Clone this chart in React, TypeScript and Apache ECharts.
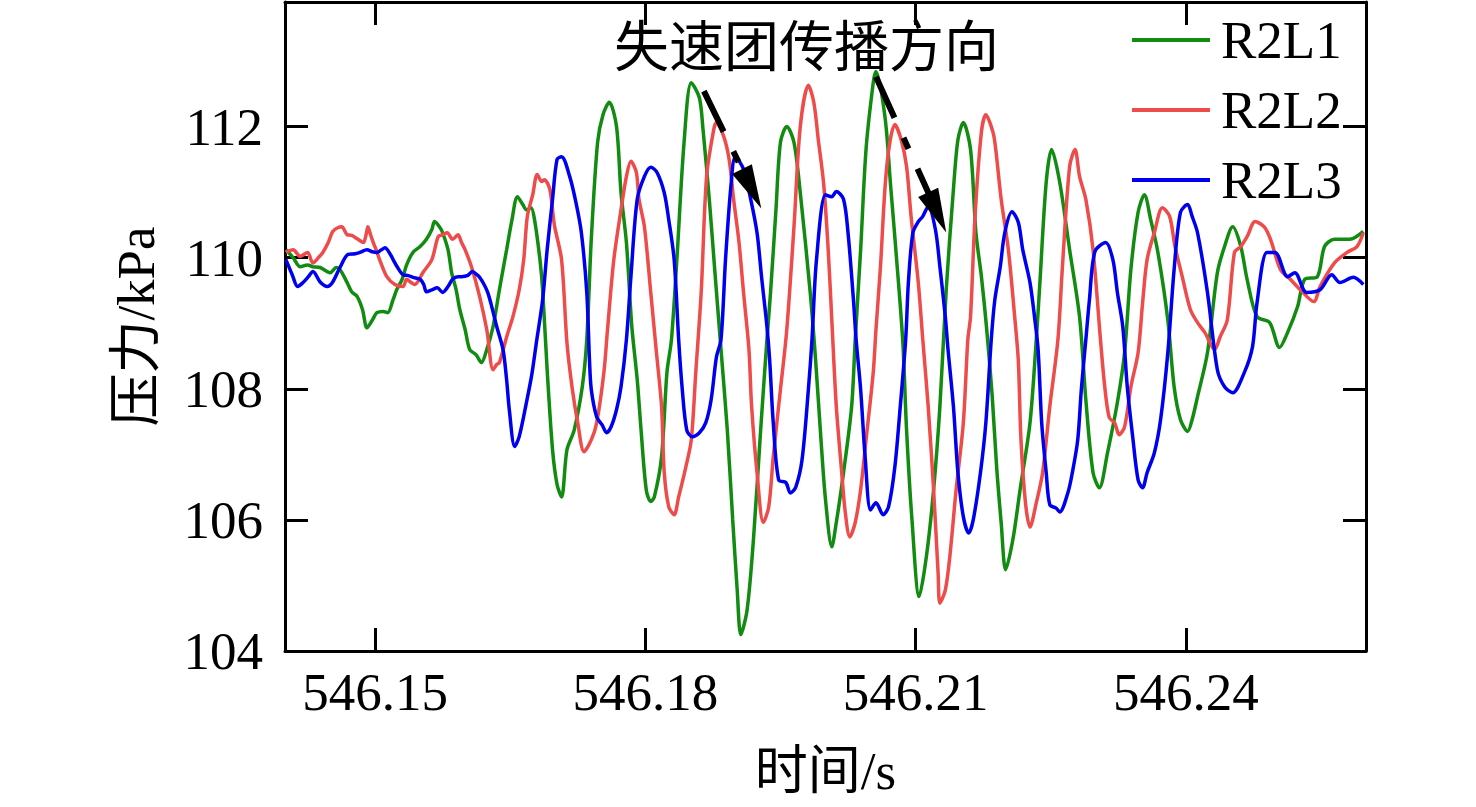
import React, { useEffect, useRef } from "react";
import * as echarts from "echarts";

const seriesNames = ["R2L1", "R2L2", "R2L3"];
const seriesColors = ["#118c11", "#ee4b4b", "#0000f0"];
const xTicks = [546.15, 546.18, 546.21, 546.24];
const yTicks = [104, 106, 108, 110, 112];
const xRange = [546.14, 546.26];
const yRange = [104, 113.9];
const xTitle = "时间/s";
const yTitle = "压力/kPa";
const annotationText = "失速团传播方向";

// [time (s), pressure (kPa)]
const R2L1: [number, number][] = [
  [546.1401, 110.12], [546.1409, 110.0], [546.1417, 109.86], [546.1425, 109.89], [546.1431, 109.86],
  [546.1439, 109.85], [546.145, 109.77], [546.1457, 109.85], [546.1461, 109.82], [546.1469, 109.62],
  [546.1474, 109.48], [546.148, 109.41], [546.1486, 109.21], [546.1491, 108.93], [546.1497, 109.05],
  [546.1502, 109.16], [546.1509, 109.18], [546.1514, 109.16], [546.152, 109.36], [546.1524, 109.51],
  [546.153, 109.67], [546.1535, 109.89], [546.1542, 110.08], [546.155, 110.17], [546.1557, 110.28],
  [546.1563, 110.43], [546.1566, 110.55], [546.1572, 110.46], [546.1575, 110.38], [546.1581, 110.12],
  [546.1585, 109.77], [546.159, 109.51], [546.1594, 109.21], [546.16, 108.9], [546.1605, 108.6],
  [546.1612, 108.52], [546.1618, 108.4], [546.1624, 108.6], [546.1631, 108.95], [546.1638, 109.51],
  [546.1646, 110.12], [546.1652, 110.58], [546.1658, 110.93], [546.1664, 110.81], [546.1668, 110.73],
  [546.1673, 110.76], [546.1677, 110.58], [546.1683, 109.97], [546.1686, 109.51], [546.1691, 108.29],
  [546.1697, 107.07], [546.1702, 106.54], [546.1707, 106.35], [546.1713, 107.07], [546.1721, 107.37],
  [546.173, 108.03], [546.1735, 108.75], [546.174, 110.28], [546.1747, 111.76], [546.1753, 112.18],
  [546.176, 112.37], [546.1768, 112.0], [546.1773, 110.99], [546.1779, 110.23], [546.1785, 108.95],
  [546.1791, 108.14], [546.1795, 107.42], [546.1801, 106.46], [546.1806, 106.28], [546.181, 106.35],
  [546.1818, 106.96], [546.1824, 108.25], [546.1829, 108.75], [546.1835, 109.97], [546.1843, 111.76],
  [546.1851, 112.67], [546.186, 112.44], [546.1864, 111.96], [546.1871, 110.89], [546.1877, 109.82],
  [546.1884, 108.6], [546.1891, 107.37], [546.1897, 106.0], [546.1902, 104.93], [546.1906, 104.25],
  [546.1913, 104.63], [546.192, 105.7], [546.1928, 107.37], [546.1935, 108.75], [546.1939, 109.47],
  [546.1945, 110.73], [546.195, 111.76], [546.1957, 112.0], [546.1965, 111.76], [546.1972, 110.99],
  [546.1983, 109.47], [546.1989, 108.44], [546.1995, 107.22], [546.2, 106.31], [546.2007, 105.59],
  [546.2012, 105.96], [546.202, 106.72], [546.2029, 107.73], [546.2033, 108.75], [546.2039, 110.12],
  [546.2045, 111.65], [546.2053, 112.67], [546.2056, 112.84], [546.2066, 112.15], [546.2072, 111.15],
  [546.2081, 109.62], [546.2086, 108.67], [546.209, 107.37], [546.2096, 106.0], [546.2104, 104.83],
  [546.2112, 105.44], [546.212, 106.46], [546.2127, 107.73], [546.2134, 109.51], [546.2142, 111.04],
  [546.2147, 111.8], [546.2153, 112.06], [546.2161, 111.65], [546.2167, 110.38], [546.2173, 109.72],
  [546.2179, 108.9], [546.2185, 107.9], [546.219, 106.8], [546.2195, 105.96], [546.22, 105.24],
  [546.2208, 105.7], [546.2216, 106.46], [546.2227, 107.48], [546.2234, 108.75], [546.2238, 109.62],
  [546.2245, 111.15], [546.2251, 111.65], [546.226, 111.15], [546.2271, 110.12], [546.2282, 109.1],
  [546.2289, 107.83], [546.2297, 106.72], [546.2304, 106.49], [546.2313, 107.02], [546.2324, 107.79],
  [546.2332, 108.55], [546.2339, 109.82], [546.2347, 110.69], [546.2354, 110.96], [546.2361, 110.58],
  [546.2369, 110.08], [546.238, 109.05], [546.2387, 108.03], [546.2394, 107.53], [546.2402, 107.35],
  [546.2407, 107.53], [546.2413, 107.88], [546.2424, 108.55], [546.2435, 109.77], [546.2443, 110.17],
  [546.2452, 110.47], [546.2461, 110.17], [546.2468, 109.67], [546.2479, 109.1], [546.2493, 109.01],
  [546.2504, 108.63], [546.2513, 108.86], [546.2524, 109.25], [546.2532, 109.67], [546.2546, 109.71],
  [546.2554, 110.17], [546.2565, 110.28], [546.2582, 110.28], [546.2597, 110.4],
];

const R2L2: [number, number][] = [
  [546.1401, 110.08], [546.1409, 110.12], [546.1417, 110.02], [546.1425, 110.08], [546.1431, 109.92],
  [546.1437, 110.0], [546.1442, 110.08], [546.1448, 110.23], [546.1453, 110.4], [546.1459, 110.46],
  [546.1463, 110.47], [546.1469, 110.35], [546.1474, 110.34], [546.1481, 110.28], [546.1487, 110.23],
  [546.149, 110.35], [546.1492, 110.47], [546.1495, 110.35], [546.1498, 110.23], [546.1502, 110.09],
  [546.1505, 109.97], [546.1513, 109.71], [546.1522, 109.59], [546.1531, 109.56], [546.1535, 109.67],
  [546.154, 109.62], [546.1544, 109.59], [546.1549, 109.67], [546.1553, 109.77], [546.1563, 109.97],
  [546.157, 110.32], [546.1575, 110.35], [546.158, 110.38], [546.1586, 110.28], [546.1592, 110.35],
  [546.1596, 110.23], [546.16, 110.12], [546.1607, 109.86], [546.1616, 109.41], [546.1624, 108.9],
  [546.1631, 108.29], [546.1635, 108.37], [546.1638, 108.4], [546.1646, 108.79], [546.1653, 109.1],
  [546.166, 109.51], [546.1665, 109.97], [546.1669, 110.63], [546.1675, 110.96], [546.168, 111.27],
  [546.1685, 111.16], [546.1688, 111.19], [546.1694, 111.04], [546.1699, 110.5], [546.1707, 109.97],
  [546.1713, 108.7], [546.1719, 107.99], [546.1725, 107.48], [546.1732, 107.04], [546.174, 107.22],
  [546.1746, 107.48], [546.1754, 108.25], [546.1758, 108.9], [546.1765, 109.97], [546.1773, 110.73],
  [546.1779, 111.24], [546.1784, 111.47], [546.179, 111.3], [546.1793, 110.89], [546.1799, 110.47],
  [546.1806, 109.47], [546.1812, 108.6], [546.1818, 107.73], [546.1821, 106.72], [546.1826, 106.2],
  [546.1832, 106.08], [546.1837, 106.35], [546.1845, 106.81], [546.1851, 107.22], [546.1856, 108.25],
  [546.1862, 109.47], [546.1868, 111.24], [546.1876, 111.96], [546.1879, 112.06], [546.1887, 111.85],
  [546.1893, 111.5], [546.1898, 110.89], [546.1904, 110.23], [546.1909, 109.47], [546.1915, 108.6],
  [546.1918, 107.73], [546.1924, 106.72], [546.1931, 105.96], [546.1937, 106.2], [546.1942, 106.96],
  [546.195, 107.99], [546.1957, 108.9], [546.1965, 110.47], [546.1972, 112.0], [546.1981, 112.63],
  [546.1987, 112.37], [546.1992, 111.8], [546.1998, 111.12], [546.2003, 110.12], [546.2007, 109.05],
  [546.2012, 107.73], [546.2018, 106.72], [546.2022, 106.11], [546.2027, 105.74], [546.2033, 105.96],
  [546.2039, 106.46], [546.2045, 107.22], [546.2053, 108.25], [546.2056, 108.9], [546.2061, 109.86],
  [546.2068, 111.39], [546.2077, 112.03], [546.2084, 111.8], [546.209, 111.39], [546.2095, 110.63],
  [546.2103, 109.62], [546.2108, 108.75], [546.2114, 107.73], [546.212, 106.46], [546.2125, 105.19],
  [546.2127, 104.73], [546.2133, 104.93], [546.2138, 105.44], [546.2145, 106.46], [546.2153, 107.48],
  [546.2158, 108.75], [546.2161, 109.1], [546.2166, 110.63], [546.2173, 111.91], [546.2178, 112.18],
  [546.2186, 111.91], [546.2189, 111.65], [546.2195, 110.89], [546.2203, 110.12], [546.221, 109.1],
  [546.2214, 108.44], [546.2217, 107.22], [546.2222, 106.26], [546.2227, 105.89], [546.2234, 106.26],
  [546.2241, 106.72], [546.2249, 107.73], [546.2258, 108.75], [546.2263, 109.86], [546.2271, 111.39],
  [546.2277, 111.65], [546.2282, 111.24], [546.2289, 110.89], [546.2297, 110.12], [546.2305, 108.79],
  [546.231, 108.03], [546.2315, 107.56], [546.2321, 107.48], [546.2326, 107.3], [546.2332, 107.42],
  [546.2339, 108.03], [546.2347, 108.55], [546.2352, 109.31], [546.2357, 109.97], [546.2365, 110.38],
  [546.2374, 110.76], [546.2382, 110.63], [546.2388, 110.17], [546.2396, 109.71], [546.2405, 109.21],
  [546.2413, 109.01], [546.2421, 108.86], [546.2432, 108.6], [546.2438, 108.79], [546.2446, 109.05],
  [546.2454, 110.08], [546.2461, 110.17], [546.2468, 110.32], [546.2477, 110.55], [546.2487, 110.47],
  [546.2494, 110.28], [546.2505, 109.82], [546.2516, 109.67], [546.2527, 109.51], [546.2542, 109.33],
  [546.2549, 109.56], [546.2565, 109.92], [546.2579, 110.08], [546.259, 110.17], [546.2597, 110.38],
];

const R2L3: [number, number][] = [
  [546.1401, 109.97], [546.1408, 109.74], [546.1414, 109.56], [546.142, 109.62], [546.1426, 109.71],
  [546.1431, 109.79], [546.1439, 109.63], [546.1447, 109.56], [546.1453, 109.63], [546.1461, 109.85],
  [546.147, 110.05], [546.1478, 110.06], [546.1483, 110.08], [546.1491, 110.12], [546.1497, 110.09],
  [546.1502, 110.08], [546.1507, 110.12], [546.1511, 110.15], [546.1517, 110.05], [546.152, 109.97],
  [546.1525, 109.85], [546.1531, 109.74], [546.1536, 109.73], [546.1542, 109.7], [546.155, 109.67],
  [546.1554, 109.59], [546.1557, 109.48], [546.1563, 109.51], [546.1569, 109.54], [546.1575, 109.47],
  [546.1581, 109.56], [546.1586, 109.67], [546.1592, 109.71], [546.1596, 109.71], [546.1603, 109.73],
  [546.1608, 109.79], [546.1613, 109.74], [546.1616, 109.7], [546.1621, 109.59], [546.1625, 109.47],
  [546.1629, 109.28], [546.1635, 108.95], [546.1642, 108.6], [546.1646, 108.14], [546.1649, 107.68],
  [546.1655, 107.12], [546.166, 107.27], [546.1668, 107.79], [546.1674, 108.22], [546.1679, 108.7],
  [546.1686, 109.36], [546.1691, 110.12], [546.1697, 110.89], [546.1702, 111.5], [546.1707, 111.54],
  [546.1716, 111.24], [546.1723, 110.84], [546.1729, 110.38], [546.1735, 109.47], [546.1738, 108.44],
  [546.174, 107.99], [546.1746, 107.57], [546.1752, 107.45], [546.1757, 107.33], [546.1762, 107.42],
  [546.1768, 107.68], [546.1773, 108.03], [546.1779, 108.75], [546.1784, 109.71], [546.1791, 110.89],
  [546.1799, 111.24], [546.1806, 111.38], [546.1813, 111.3], [546.1821, 110.99], [546.1826, 110.58],
  [546.1832, 109.97], [546.1837, 108.75], [546.1841, 107.99], [546.1846, 107.37], [546.1852, 107.27],
  [546.186, 107.33], [546.1867, 107.48], [546.1873, 107.83], [546.1879, 108.49], [546.1884, 108.75],
  [546.1889, 109.97], [546.1895, 111.09], [546.19, 111.54], [546.1909, 111.35], [546.1917, 110.89],
  [546.1924, 110.38], [546.1929, 109.71], [546.1935, 108.95], [546.1938, 108.44], [546.1942, 107.48],
  [546.1948, 106.61], [546.1956, 106.57], [546.1961, 106.41], [546.1967, 106.5], [546.1974, 106.92],
  [546.1981, 107.99], [546.1985, 108.75], [546.199, 109.97], [546.2, 110.96], [546.2007, 110.93],
  [546.2012, 111.01], [546.202, 110.89], [546.2025, 110.38], [546.2031, 109.36], [546.2034, 108.75],
  [546.2039, 107.99], [546.2044, 106.96], [546.205, 106.15], [546.2056, 106.26], [546.2064, 106.08],
  [546.207, 106.2], [546.2077, 106.81], [546.2083, 107.73], [546.2089, 108.75], [546.2092, 109.62],
  [546.2097, 110.38], [546.2103, 110.55], [546.2108, 110.63], [546.2114, 110.78], [546.2122, 110.43],
  [546.2127, 109.86], [546.2133, 109.1], [546.2136, 108.6], [546.2142, 107.73], [546.2147, 106.72],
  [546.2153, 106.05], [546.2159, 105.8], [546.2164, 106.0], [546.2172, 106.72], [546.2178, 107.48],
  [546.2184, 108.75], [546.2188, 109.36], [546.2194, 109.86], [546.2199, 110.38], [546.2207, 110.7],
  [546.2214, 110.54], [546.2219, 110.12], [546.2227, 109.62], [546.2232, 109.1], [546.2236, 108.6],
  [546.224, 107.48], [546.2245, 106.72], [546.2249, 106.23], [546.2256, 106.18], [546.226, 106.12],
  [546.2269, 106.41], [546.2274, 106.72], [546.228, 107.22], [546.2284, 107.99], [546.2289, 108.75],
  [546.2293, 109.36], [546.2299, 110.09], [546.2311, 110.23], [546.2319, 109.97], [546.2324, 109.47],
  [546.233, 108.95], [546.2335, 108.03], [546.2341, 107.27], [546.2347, 106.61], [546.2352, 106.49],
  [546.2357, 106.72], [546.2365, 107.02], [546.2372, 107.53], [546.238, 108.55], [546.2387, 109.82],
  [546.2394, 110.69], [546.2402, 110.81], [546.2407, 110.63], [546.2413, 110.38], [546.2424, 109.47],
  [546.2435, 108.29], [546.2443, 108.03], [546.2452, 107.94], [546.2465, 108.25], [546.2474, 108.64],
  [546.2479, 109.31], [546.249, 110.08], [546.2499, 110.08], [546.2513, 109.71], [546.2521, 109.77],
  [546.2534, 109.47], [546.2549, 109.51], [546.2562, 109.74], [546.2571, 109.62], [546.2586, 109.7],
  [546.2597, 109.59],
];

// dashed arrows: [start [t, p], arrow-head centre [t, p]]
const arrows: [number, number][][] = [
  [[546.1865, 112.54], [546.1918, 111.05]],
  [[546.2056, 112.76], [546.2124, 110.69]],
];

const serif = "'Liberation Serif', 'Times New Roman', 'Noto Sans CJK SC', serif";

export default function App() {
  const ref = useRef<HTMLDivElement>(null);

  useEffect(() => {
    if (!ref.current) return;
    const chart = echarts.init(ref.current, undefined, { renderer: "svg" });
    const allData = [R2L1, R2L2, R2L3];

    const axisLine = { show: true, onZero: false, lineStyle: { color: "#000", width: 3 } };
    const tickStyle = { color: "#000", width: 3 };
    const labelFont = { fontSize: 53, fontFamily: serif, color: "#000" };

    const series: any[] = seriesNames.map((name, i) => ({
      name,
      type: "line",
      data: allData[i],
      showSymbol: false,
      symbol: "none",
      smooth: 0.3,
      lineStyle: { color: seriesColors[i], width: 3.5 },
      itemStyle: { color: seriesColors[i] },
      z: 2 + i,
    }));

    series[2].markLine = {
      silent: true,
      symbol: ["none", "triangle"],
      symbolSize: [22, 44],
      label: { show: false },
      lineStyle: { color: "#000", width: 6, type: [45, 22, 12, 22], opacity: 1 },
      itemStyle: { color: "#000" },
      data: arrows.map((a) => [{ coord: a[0] }, { coord: a[1] }]),
      z: 10,
    };

    chart.setOption({
      animation: false,
      backgroundColor: "#fff",
      grid: { left: 285, right: 110, top: 2, bottom: 156 },
      legend: {
        data: seriesNames,
        orient: "vertical",
        left: 1127,
        top: 5,
        icon: "rect",
        itemWidth: 78,
        itemHeight: 4,
        itemGap: 10,
        selectedMode: false,
        textStyle: { ...labelFont, lineHeight: 60, padding: [0, 0, 0, 6] },
      },
      xAxis: [
        {
          type: "value",
          min: xRange[0],
          max: xRange[1],
          position: "bottom",
          axisLine,
          axisTick: { show: true, inside: true, length: 23, lineStyle: tickStyle, customValues: xTicks },
          axisLabel: {
            show: true,
            customValues: xTicks,
            formatter: (v: number) => v.toFixed(2),
            margin: 14,
            ...labelFont,
          },
          splitLine: { show: false },
          name: xTitle,
          nameLocation: "middle",
          nameGap: 93,
          nameTextStyle: labelFont,
        },
        {
          type: "value",
          min: xRange[0],
          max: xRange[1],
          position: "top",
          axisLine,
          axisTick: { show: true, inside: true, length: 23, lineStyle: tickStyle, customValues: xTicks },
          axisLabel: { show: false },
          splitLine: { show: false },
        },
      ],
      yAxis: [
        {
          type: "value",
          min: yRange[0],
          max: yRange[1],
          position: "left",
          axisLine,
          axisTick: { show: true, inside: true, length: 23, lineStyle: tickStyle, customValues: yTicks },
          axisLabel: {
            show: true,
            customValues: yTicks,
            formatter: (v: number) => String(Math.round(v)),
            margin: 22,
            ...labelFont,
          },
          splitLine: { show: false },
          name: yTitle,
          nameLocation: "middle",
          nameRotate: 90,
          nameGap: 123,
          nameTextStyle: labelFont,
        },
        {
          type: "value",
          min: yRange[0],
          max: yRange[1],
          position: "right",
          axisLine,
          axisTick: { show: true, inside: true, length: 23, lineStyle: tickStyle, customValues: yTicks },
          axisLabel: { show: false },
          splitLine: { show: false },
        },
      ],
      series,
      graphic: [
        {
          type: "text",
          left: 614,
          top: 14,
          z: 20,
          style: {
            text: annotationText,
            fontSize: 55,
            fontFamily: "'Noto Sans CJK SC'",
            fill: "#000",
          },
        },
      ],
    });

    return () => chart.dispose();
  }, []);

  return (
    <div
      ref={ref}
      style={{ position: "fixed", left: 0, top: 0, width: 1476, height: 807, background: "#fff" }}
    />
  );
}
